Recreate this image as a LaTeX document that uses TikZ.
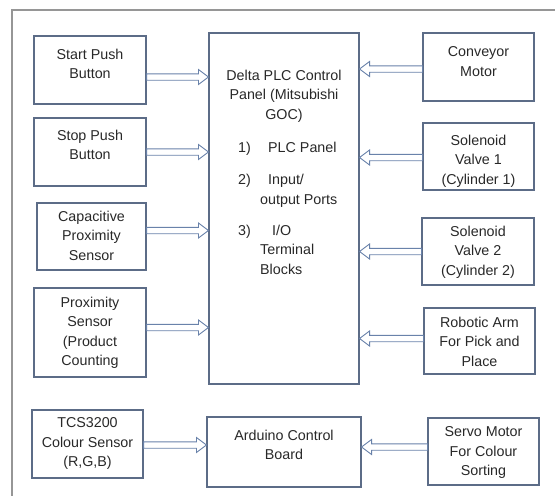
\documentclass[tikz,border=0pt]{standalone}
\usepackage{fontspec}
\setmainfont{Liberation Sans}
\usetikzlibrary{calc}

\definecolor{boxcol}{RGB}{92,108,135}
\definecolor{arrcol}{RGB}{105,130,170}
\definecolor{txtcol}{RGB}{40,40,40}
\definecolor{framecol}{RGB}{150,150,150}

\begin{document}
\begin{tikzpicture}[x=1pt, y=-1pt, line join=miter]
		
		% ================= 1. 样式 =================
		\tikzset{
			box/.style={draw=boxcol, line width=1.1pt, inner sep=0pt},
			txt/.style={text=txtcol, font=\fontsize{14.3}{19.5}\selectfont, align=center, inner sep=0pt},
			blockarr/.style={
				draw=arrcol, fill=white, line width=0.9pt,
				to path={
					let \p1=(\tikztostart), \p2=(\tikztotarget),
					\n1={ifthenelse(\x2>\x1,1,-1)} in
					(\x1,\y1+3.2pt) -- ({\x2-\n1*10pt},\y1+3.2pt) -- ({\x2-\n1*10pt},\y1+7.5pt)
					-- (\x2,\y1) -- ({\x2-\n1*10pt},\y1-7.5pt) -- ({\x2-\n1*10pt},\y1-3.2pt)
					-- (\x1,\y1-3.2pt) -- cycle
				}
			}
		}
		
		\useasboundingbox (0,0) rectangle (555,496);
		
		% ================= 2. 外框 =================
		\draw[framecol, line width=1.3pt] (12,496) -- (12,10) -- (555,10);
		
		% ================= 3. 左侧输入模块 =================
		\node[box, minimum width=112pt, minimum height=68pt] (start) at (90,70) {};
		\node[box, minimum width=112pt, minimum height=68pt] (stop) at (90,152) {};
		\node[box, minimum width=109pt, minimum height=67pt] (cap) at (91.5,236.5) {};
		\node[box, minimum width=112pt, minimum height=89pt] (prox) at (90,332.5) {};
		\node[box, minimum width=111pt, minimum height=68pt] (tcs) at (87.5,444) {};
		
		\node[txt, anchor=north] (start-t) at ([yshift=-13pt]start.north) {Start Push\\Button};
		\node[txt, anchor=north] (stop-t) at ([yshift=-12pt]stop.north) {Stop Push\\Button};
		\node[txt, anchor=north] (cap-t) at ([yshift=-8pt]cap.north) {Capacitive\\Proximity\\Sensor};
		\node[txt, anchor=north] (prox-t) at ([yshift=-9pt]prox.north) {Proximity\\Sensor\\(Product\\Counting};
		\node[txt, anchor=north] (tcs-t) at ([yshift=-8pt]tcs.north) {TCS3200\\Colour Sensor\\(R,G,B)};
		
		% ================= 4. 控制器 =================
		\node[box, minimum width=150pt, minimum height=351pt] (plc) at (284,208.5) {};
		\node[box, minimum width=154pt, minimum height=70pt] (ard) at (284,452) {};
		
		\node[txt, anchor=north] (plc-t) at ([yshift=-37pt]plc.north) {Delta PLC Control\\Panel (Mitsubishi\\GOC)};
		\node[txt, align=left, anchor=north west] (plc-list) at (238,138.4) {%
			\begin{tabular}{@{}p{22pt}@{}l@{}}
				1) & \hspace*{8pt}PLC Panel\\[13pt]
				2) & \hspace*{8pt}Input/\\
				   & output Ports\\[11.5pt]
				3) & \hspace*{12pt}I/O\\
				   & Terminal\\
				   & Blocks
			\end{tabular}};
		\node[txt, anchor=north] (ard-t) at ([yshift=-13pt]ard.north) {Arduino Control\\Board};
		
		% ================= 5. 右侧输出模块 =================
		\node[box, minimum width=111pt, minimum height=68pt] (conv) at (478.5,67) {};
		\node[box, minimum width=111pt, minimum height=67pt] (valve1) at (478.5,156.5) {};
		\node[box, minimum width=112pt, minimum height=67pt] (valve2) at (478,251.5) {};
		\node[box, minimum width=111pt, minimum height=66pt] (arm) at (479.5,341) {};
		\node[box, minimum width=111pt, minimum height=67pt] (servo) at (483.5,451.5) {};
		
		\node[txt, anchor=north] (conv-t) at ([yshift=-14pt]conv.north) {Conveyor\\Motor};
		\node[txt, anchor=north] (valve1-t) at ([yshift=-12pt]valve1.north) {Solenoid\\Valve 1\\(Cylinder 1)};
		\node[txt, anchor=north] (valve2-t) at ([yshift=-8pt]valve2.north) {Solenoid\\Valve 2\\(Cylinder 2)};
		\node[txt, anchor=north] (arm-t) at ([yshift=-9pt]arm.north) {Robotic Arm\\For Pick and\\Place};
		\node[txt, anchor=north] (servo-t) at ([yshift=-9pt]servo.north) {Servo Motor\\For Colour\\Sorting};
		
		% ================= 6. 空心箭头 =================
		\draw[blockarr] ([yshift=-7pt]start.east) to (plc.west);
		\draw[blockarr] (stop.east) to (plc.west);
		\draw[blockarr] ([yshift=6pt]cap.east) to (plc.west);
		\draw[blockarr] ([yshift=5pt]prox.east) to (plc.west);
		\draw[blockarr] ([yshift=-1pt]tcs.east) to (ard.west);
		
		\draw[blockarr] ([yshift=-2pt]conv.west) to (plc.east);
		\draw[blockarr] ([yshift=-1pt]valve1.west) to (plc.east);
		\draw[blockarr] (valve2.west) to (plc.east);
		\draw[blockarr] ([yshift=2.5pt]arm.west) to (plc.east);
		\draw[blockarr] ([yshift=4.5pt]servo.west) to (ard.east);
		
	\end{tikzpicture}
\end{document}
